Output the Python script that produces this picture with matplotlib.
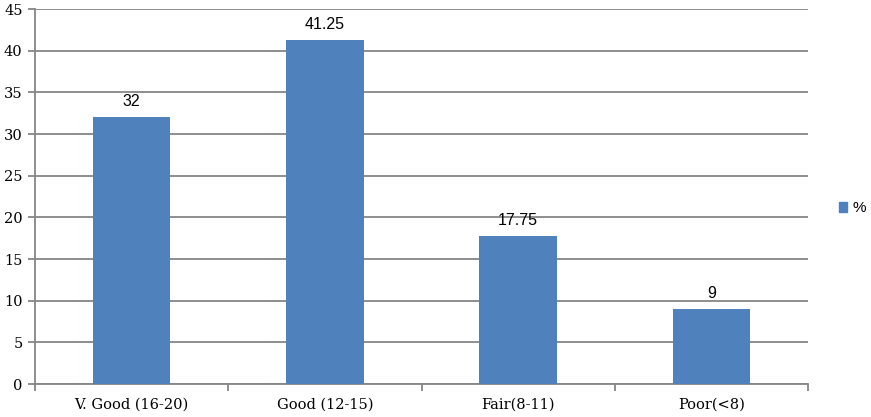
import matplotlib
matplotlib.use("Agg")
import matplotlib.pyplot as plt
from matplotlib.patches import Patch
import numpy as np

categories = ["V. Good (16-20)", "Good (12-15)", "Fair(8-11)", "Poor(<8)"]
percent = [32, 41.25, 17.75, 9]
valueLabels = ["32", "41.25", "17.75", "9"]

barColor = "#4f81bd"
axisColor = "#868686"

fig = plt.figure(figsize=(8.71, 4.17), dpi=100)
ax = fig.add_axes([0.0402, 0.0791, 0.8875, 0.8993])

x = np.arange(len(categories))
bars = ax.bar(x, percent, width=0.4, color=barColor, zorder=3)

for rect, lbl in zip(bars, valueLabels):
    ax.annotate(lbl, (rect.get_x() + rect.get_width() / 2, rect.get_height()),
                xytext=(0, 6), textcoords="offset points", ha="center", va="bottom",
                fontsize=11.5, family="Liberation Sans")

ax.set_xlim(-0.5, len(categories) - 0.5)
ax.set_ylim(0, 45)
ax.set_yticks(np.arange(0, 46, 5))
ax.yaxis.grid(True, color=axisColor, linewidth=1.3, zorder=0)

ax.set_xticks(x)
ax.set_xticklabels(categories, family="DejaVu Serif", fontsize=10.5)
ax.set_xticks(np.arange(-0.5, len(categories)), minor=True)
ax.tick_params(axis="x", which="major", length=0, pad=10)
ax.tick_params(axis="x", which="minor", length=5, color=axisColor, width=1.3)
ax.tick_params(axis="y", length=5, color=axisColor, width=1.3, pad=4)
for t in ax.get_yticklabels():
    t.set_family("DejaVu Serif")
    t.set_fontsize(10.5)

for side in ["top", "right"]:
    ax.spines[side].set_visible(False)
for side in ["left", "bottom"]:
    ax.spines[side].set_color(axisColor)
    ax.spines[side].set_linewidth(1.3)

fig.legend(handles=[Patch(color=barColor, label="%")], loc="center left",
           bbox_to_anchor=(0.947, 0.5), frameon=False, handlelength=0.55,
           handleheight=0.55, handletextpad=0.35, prop={"family": "Liberation Sans", "size": 11})

fig.savefig("out.png", dpi=100)
